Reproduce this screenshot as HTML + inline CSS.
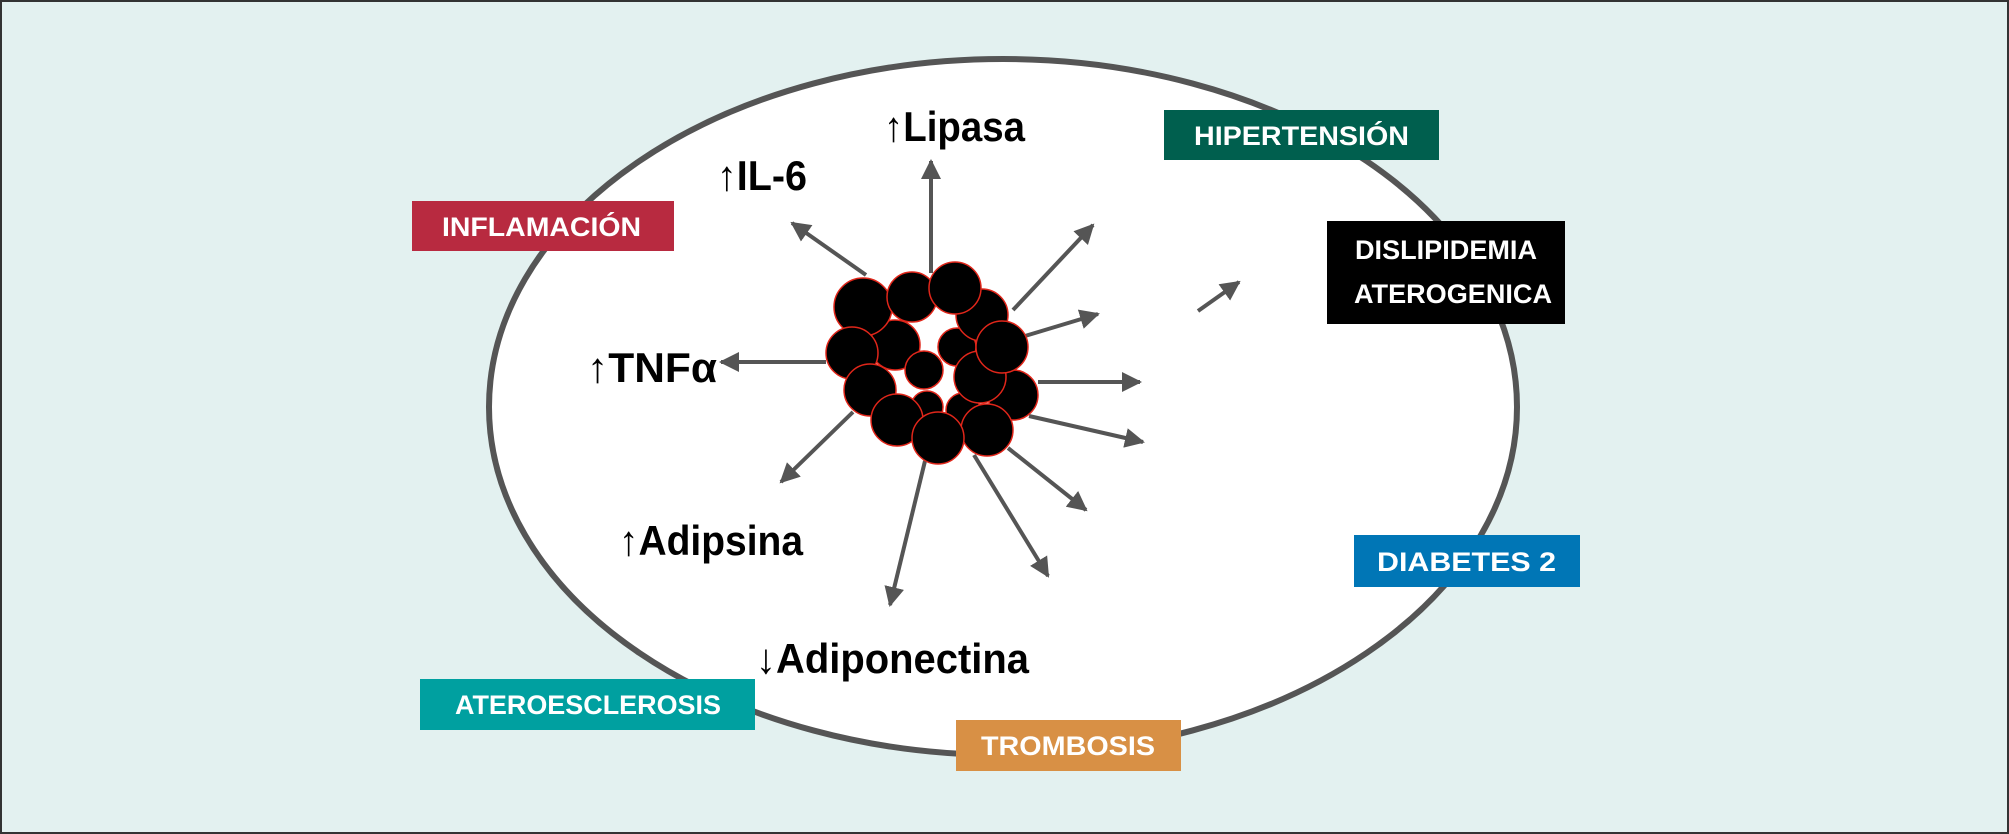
<!DOCTYPE html>
<html><head><meta charset="utf-8"><style>html,body{margin:0;padding:0;background:#e3f1f0}svg{display:block}</style></head><body>
<svg width="2009" height="834" viewBox="0 0 2009 834" xmlns="http://www.w3.org/2000/svg">
<defs><marker id="a" viewBox="0 0 10 10" refX="9" refY="5" markerWidth="5" markerHeight="5" markerUnits="strokeWidth" orient="auto"><path d="M0,0L10,5L0,10z" fill="#555"/></marker></defs>
<rect x="1" y="1" width="2007" height="832" fill="#e3f1f0" stroke="#333" stroke-width="2"/>
<ellipse cx="1003" cy="407" rx="514" ry="348" fill="#fff" stroke="#555" stroke-width="6"/>
<g stroke="#555" stroke-width="4" marker-end="url(#a)" fill="none">
<line x1="931" y1="273" x2="931" y2="161"/>
<line x1="866" y1="275" x2="792" y2="223"/>
<line x1="1013" y1="310" x2="1093" y2="225"/>
<line x1="1025" y1="336" x2="1098" y2="314"/>
<line x1="1038" y1="382" x2="1140" y2="382"/>
<line x1="1029" y1="416" x2="1143" y2="442"/>
<line x1="1008" y1="448" x2="1086" y2="510"/>
<line x1="974" y1="455" x2="1048" y2="576"/>
<line x1="925" y1="461" x2="890" y2="605"/>
<line x1="853" y1="412" x2="781" y2="482"/>
<line x1="826" y1="362" x2="721" y2="362"/>
<line x1="1198" y1="311" x2="1239" y2="282"/>
</g>
<g fill="#000" stroke="#e0261a" stroke-width="1.5">
<circle cx="957" cy="347" r="19"/><circle cx="927" cy="407" r="16"/><circle cx="963" cy="410" r="17"/>
<circle cx="982" cy="315" r="26"/><circle cx="895" cy="345" r="25"/>
<circle cx="863" cy="307" r="29"/><circle cx="912" cy="297" r="25"/><circle cx="955" cy="288" r="26"/>
<circle cx="852" cy="353" r="26"/><circle cx="924" cy="370" r="19"/>
<circle cx="1013" cy="395" r="25"/><circle cx="980" cy="377" r="26"/><circle cx="1002" cy="347" r="26"/>
<circle cx="870" cy="390" r="26"/><circle cx="897" cy="420" r="26"/>
<circle cx="987" cy="430" r="26"/><circle cx="938" cy="438" r="26"/>
</g>
<g font-family="Liberation Sans Narrow, Liberation Sans, sans-serif" font-weight="bold" font-size="42" fill="#000">
<text x="884" y="141" textLength="141" lengthAdjust="spacingAndGlyphs">↑Lipasa</text>
<text x="717" y="190" textLength="90" lengthAdjust="spacingAndGlyphs">↑IL-6</text>
<text x="587" y="382" textLength="130" lengthAdjust="spacingAndGlyphs">↑TNFα</text>
<text x="619" y="555" textLength="184" lengthAdjust="spacingAndGlyphs">↑Adipsina</text>
<text x="756" y="673" textLength="273" lengthAdjust="spacingAndGlyphs">↓Adiponectina</text>
</g>
<rect x="412" y="201" width="262" height="50" fill="#b82a40"/>
<rect x="1164" y="110" width="275" height="50" fill="#005f4e"/>
<rect x="1327" y="221" width="238" height="103" fill="#000"/>
<rect x="1354" y="535" width="226" height="52" fill="#0076b6"/>
<rect x="420" y="679" width="335" height="51" fill="#00a0a0"/>
<rect x="956" y="720" width="225" height="51" fill="#d89045"/>
<g font-family="Liberation Sans, sans-serif" font-weight="bold" font-size="27" fill="#fff">
<text x="442" y="236" textLength="199" lengthAdjust="spacingAndGlyphs">INFLAMACIÓN</text>
<text x="1194" y="145" textLength="215" lengthAdjust="spacingAndGlyphs">HIPERTENSIÓN</text>
<text x="1355" y="259" textLength="182" lengthAdjust="spacingAndGlyphs">DISLIPIDEMIA</text>
<text x="1354" y="303" textLength="198" lengthAdjust="spacingAndGlyphs">ATEROGENICA</text>
<text x="1377" y="571" textLength="179" lengthAdjust="spacingAndGlyphs">DIABETES 2</text>
<text x="455" y="714" textLength="266" lengthAdjust="spacingAndGlyphs">ATEROESCLEROSIS</text>
<text x="981" y="755" textLength="174" lengthAdjust="spacingAndGlyphs">TROMBOSIS</text>
</g>
</svg>
</body></html>
